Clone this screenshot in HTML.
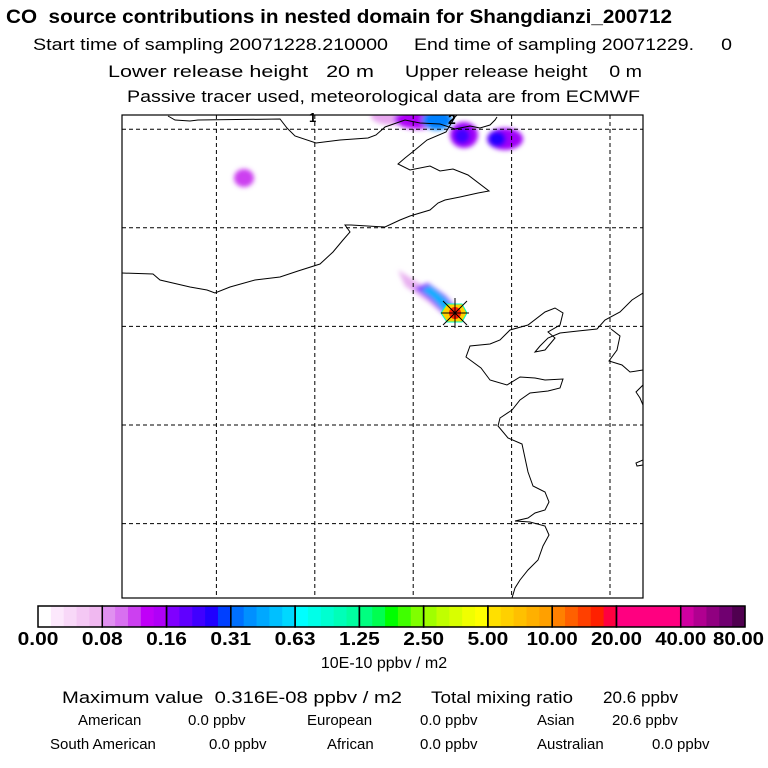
<!DOCTYPE html>
<html><head><meta charset="utf-8"><style>
body{margin:0;background:#fff}
svg{display:block;font-family:"Liberation Sans",sans-serif}
svg text{white-space:pre}
</style></head><body>
<svg id="chart" width="768" height="768" viewBox="0 0 768 768" xmlns="http://www.w3.org/2000/svg" xml:space="preserve">
<rect width="768" height="768" fill="#fff"/>
<g fill="#000">
<text x="6" y="23" font-size="19" font-weight="bold" textLength="666" lengthAdjust="spacingAndGlyphs">CO  source contributions in nested domain for Shangdianzi_200712</text>
<text x="33" y="50" font-size="17" textLength="355" lengthAdjust="spacingAndGlyphs">Start time of sampling 20071228.210000</text>
<text x="414" y="50" font-size="17" textLength="318" lengthAdjust="spacingAndGlyphs">End time of sampling 20071229.     0</text>
<text x="108" y="77" font-size="17" textLength="266" lengthAdjust="spacingAndGlyphs">Lower release height   20 m</text>
<text x="405" y="77" font-size="17" textLength="237" lengthAdjust="spacingAndGlyphs">Upper release height    0 m</text>
<text x="127" y="102" font-size="17" textLength="513" lengthAdjust="spacingAndGlyphs">Passive tracer used, meteorological data are from ECMWF</text>
</g>
<defs>
<clipPath id="mapclip"><rect x="122" y="115" width="521" height="483"/></clipPath>
<filter id="blur" x="-50%" y="-50%" width="200%" height="200%"><feGaussianBlur stdDeviation="2.5"/></filter>
</defs>
<g id="map" clip-path="url(#mapclip)">
<g id="plumes" filter="url(#blur)">
<ellipse cx="244" cy="178" rx="10" ry="9" fill="#cc40f0"/>
<ellipse cx="393" cy="116" rx="22" ry="9" fill="#e8a8f0"/>
<ellipse cx="418" cy="119" rx="24" ry="10" fill="#b000f8"/>
<ellipse cx="437" cy="120" rx="15" ry="10" fill="#0080ff"/>
<ellipse cx="464" cy="135" rx="14" ry="13" fill="#a000f8"/>
<ellipse cx="462" cy="136" rx="8" ry="8" fill="#4000ff"/>
<ellipse cx="505" cy="139" rx="18" ry="11" fill="#a000f8"/>
<ellipse cx="497" cy="139" rx="9" ry="8" fill="#2000ff"/>
<path d="M398 270 L414 280 L442 297 L459 312 L450 320 L428 302 L405 286 Z" fill="#e8b0f0"/>
<path d="M414 288 L428 283 L446 296 L458 310 L449 319 L431 301 Z" fill="#8030ff"/>
<path d="M421 290 L430 286 L446 299 L453 310 L447 315 L432 298 Z" fill="#00b0ff"/>
</g>
<polygon points="447,304 462,304 467,313 462,322 447,322 441,313" fill="#ffd000" stroke="#00ffc0" stroke-width="1"/>
<circle cx="455" cy="313" r="6" fill="#ff2000"/>
<g fill="none" stroke="#000" stroke-width="1">
<polyline points="168,116 175,120 190,121 198,120 280,119 287,128 295,136 316,143 340,140 368,138 376,135 385,127 405,120 420,123 440,124 455,129 470,126 480,128 490,125 495,120 497,117"/>
<polyline points="122,273 153,274 160,280 190,287 207,290 215,293 230,287 255,280 280,277 298,271 320,264 333,252 343,240 350,232 345,225 351,225 385,227 400,220 410,216 430,210 438,203 445,200 460,197 478,193 489,191 468,175 453,169 440,171 430,166 410,170 398,164 405,158 415,150 427,140 446,132 455,117 462,110"/>
<polyline points="643,293 632,300 620,312 605,320 597,329 578,331 560,333 548,338 540,346 535,352 545,350 555,338 548,332 560,325 563,313 555,308 545,312 528,325 510,330 500,340 490,344 470,346 466,357 481,368 490,380 507,385 520,377 535,378 545,380 563,379 560,388 548,391 530,393 520,400 512,410 500,418 498,426 508,438 522,444 525,458 528,472 533,486 545,492 549,502 545,510 535,513 528,518 515,521 530,522 545,526 549,535 543,546 538,560 528,570 520,580 515,588 512,598"/>
<polyline points="611,329 620,336 617,350 609,361 622,365 630,372 643,370"/>
<polyline points="643,385 636,392 640,398 643,405"/>
<polyline points="643,460 636,463 637,466 643,465"/>
</g>
<g stroke="#000" stroke-width="1">
<line x1="443" y1="301" x2="467" y2="325"/><line x1="467" y1="301" x2="443" y2="325"/>
<line x1="441" y1="313" x2="469" y2="313"/><line x1="455" y1="298" x2="455" y2="328"/>
</g>
<g id="grid" stroke="#000" stroke-width="1" stroke-dasharray="4,3"></g>
</g>
<text x="309" y="122" font-size="13" font-weight="bold">1</text>
<text x="448" y="124" font-size="14" font-weight="bold">2</text>
<rect x="122" y="115" width="521" height="483" fill="none" stroke="#000" stroke-width="1.2"/>
<g id="cbar"></g>
<text x="384" y="668" font-size="16" text-anchor="middle">10E-10 ppbv / m2</text>
<g fill="#000">
<text x="62" y="703" font-size="17" textLength="340" lengthAdjust="spacingAndGlyphs">Maximum value  0.316E-08 ppbv / m2</text>
<text x="431" y="703" font-size="17" textLength="142" lengthAdjust="spacingAndGlyphs">Total mixing ratio</text>
<text x="603" y="703" font-size="17" textLength="75" lengthAdjust="spacingAndGlyphs">20.6 ppbv</text>
<g font-size="15">
<text x="78" y="725">American</text>
<text x="188" y="725">0.0 ppbv</text>
<text x="307" y="725">European</text>
<text x="420" y="725">0.0 ppbv</text>
<text x="537" y="725">Asian</text>
<text x="612" y="725">20.6 ppbv</text>
<text x="50" y="749">South American</text>
<text x="209" y="749">0.0 ppbv</text>
<text x="327" y="749">African</text>
<text x="420" y="749">0.0 ppbv</text>
<text x="537" y="749">Australian</text>
<text x="652" y="749">0.0 ppbv</text>
</g>
</g>
</svg>
<script>
const tickLabels=["0.00","0.08","0.16","0.31","0.63","1.25","2.50","5.00","10.00","20.00","40.00","80.00"];
const segmentColors=[
["#ffffff","#fce8fc","#f8d8f8","#f4c8f4","#f0b8f0"],
["#e090f0","#d870f0","#cc40f0","#c000f8","#b000f8"],
["#8000ff","#6000ff","#4000ff","#2000ff","#0040ff"],
["#0070ff","#0090ff","#00a8ff","#00c0ff","#00d8ff"],
["#00ffff","#00ffe8","#00ffd0","#00ffb8","#00ffa0"],
["#00ff80","#00ff50","#00ff00","#40ff00","#80ff00"],
["#a0ff00","#c0ff00","#d8ff00","#f0ff00","#ffff00"],
["#ffe000","#ffd000","#ffc000","#ffb000","#ffa000"],
["#ff8000","#ff6000","#ff4000","#ff2000","#ff0040"],
["#ff0080","#ff0080","#ff0080","#ff0080","#ff0080"],
["#d000a0","#b00090","#900080","#700070","#500050"]];
const gridLon=[1,2,3,4,5];
const gridLat=[1,2,3,4,5];
const NS="http://www.w3.org/2000/svg";
function mk(t,a){const e=document.createElementNS(NS,t);for(const k in a)e.setAttribute(k,a[k]);return e;}
const cbX0=38,cbX1=745,cbY=606,cbH=21;
const segW=(cbX1-cbX0)/segmentColors.length;
function cbx(i){return cbX0+i*segW;}
const cb=document.getElementById('cbar');
segmentColors.forEach((seg,i)=>{
  seg.forEach((c,j)=>{
    const r=mk('rect',{x:cbx(i)+j*segW/seg.length,y:cbY,width:segW/seg.length+0.6,height:cbH,fill:c});
    
    
    cb.appendChild(r);
  });
});
segmentColors.forEach((seg,i)=>{
  const r=mk('rect',{x:cbx(i),y:cbY,width:segW,height:cbH,fill:'none',stroke:'#000','stroke-width':1.5});
  
  
  cb.appendChild(r);
});
tickLabels.forEach((t,i)=>{
  const w=t.length*10.2;
  const x=Math.min(Math.max(cbx(i),4+w/2),764-w/2);
  const e=mk('text',{x:x,y:645,'font-size':18,'font-weight':'bold','text-anchor':'middle',textLength:w,lengthAdjust:'spacingAndGlyphs'});
  e.textContent=t;
  
  
  cb.appendChild(e);
});
const g=document.getElementById('grid');
function gx(i){return 118+i*98.4;}
function gy(i){return 30.6+i*98.6;}
gridLon.forEach(i=>{const l=mk('line',{x1:gx(i),y1:115,x2:gx(i),y2:598});
  
  
  g.appendChild(l);});
gridLat.forEach(i=>{const l=mk('line',{x1:122,y1:gy(i),x2:643,y2:gy(i)});
  
  
  g.appendChild(l);});
</script>
</body></html>
